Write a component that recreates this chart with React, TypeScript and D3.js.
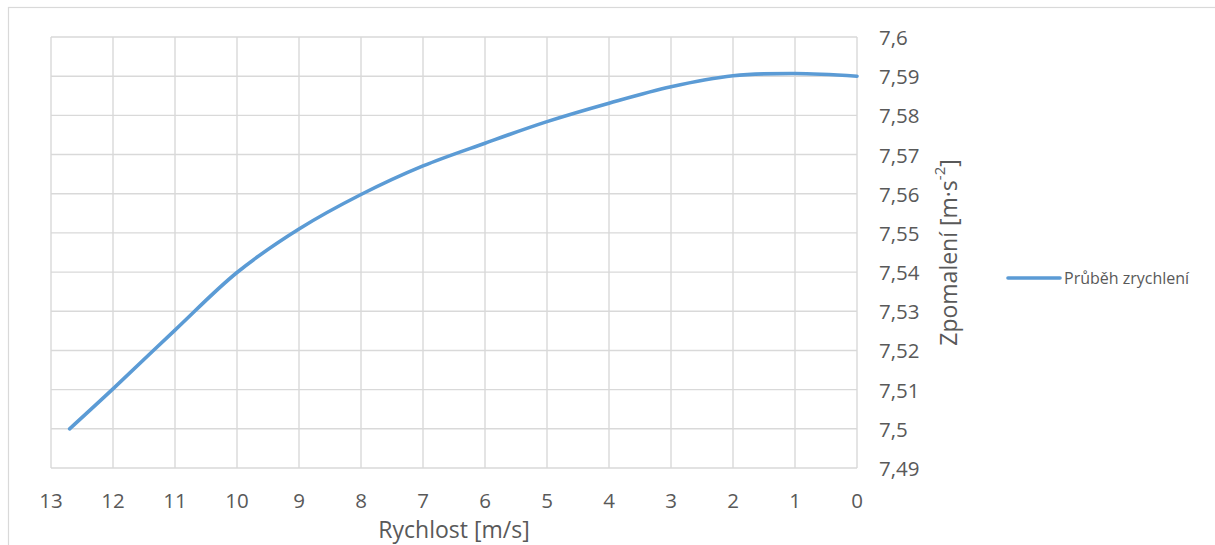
import React from "react";
import * as d3 from "d3";

const speeds = [12.7, 12, 11, 10, 9, 8, 7, 6, 5, 4, 3, 2, 1, 0];
const decel = [7.5, 7.5102, 7.5252, 7.5399, 7.551, 7.5598, 7.5671, 7.5729, 7.5784, 7.5831, 7.5873, 7.5901, 7.5907, 7.59];
const xTicks = [13, 12, 11, 10, 9, 8, 7, 6, 5, 4, 3, 2, 1, 0];
const yTicks = [7.49, 7.5, 7.51, 7.52, 7.53, 7.54, 7.55, 7.56, 7.57, 7.58, 7.59, 7.6];
const seriesName = "Průběh zrychlení";
const xTitle = "Rychlost [m/s]";

const W = 1215;
const H = 545;
const left = 51, right = 857, top = 37, bottom = 468;
const FONT = "'Open Sans', 'Noto Sans', sans-serif";
const TXT = "#595959";
const GRID = "#d9d9d9";
const BLUE = "#5b9bd5";

const fmt = (v: number) => {
  const s = d3.format(".2~f")(v);
  return s.replace(".", ",");
};

export default function App() {
  const x = d3.scaleLinear().domain([13, 0]).range([left, right]);
  const y = d3.scaleLinear().domain([7.49, 7.6]).range([bottom, top]);
  const pts: [number, number][] = speeds.map((s, i) => [x(s), y(decel[i])]);
  const line = d3.line().curve(d3.curveCatmullRom.alpha(0.5))(pts) || "";

  return (
    <svg width={W} height={H} style={{ position: "absolute", left: 0, top: 0, background: "#fff" }}>
      <rect x={8.5} y={7.5} width={1215} height={560} fill="#fff" stroke={GRID} strokeWidth={1.2} />
      {yTicks.map((t) => (
        <line key={"hy" + t} x1={left} x2={right} y1={y(t)} y2={y(t)} stroke={GRID} strokeWidth={1.4} />
      ))}
      {xTicks.map((t) => (
        <line key={"vx" + t} x1={x(t)} x2={x(t)} y1={top} y2={bottom} stroke={GRID} strokeWidth={1.4} />
      ))}
      <path d={line} fill="none" stroke={BLUE} strokeWidth={3.6} strokeLinecap="round" strokeLinejoin="round" />
      {xTicks.map((t) => (
        <text key={"tx" + t} x={x(t)} y={500} textAnchor="middle" dominantBaseline="central" fontFamily={FONT} fontSize={20.5} fill={TXT}>
          {t}
        </text>
      ))}
      {yTicks.map((t) => (
        <text key={"ty" + t} x={879} y={y(t)} textAnchor="start" dominantBaseline="central" fontFamily={FONT} fontSize={20.5} fill={TXT}>
          {fmt(t)}
        </text>
      ))}
      <text x={(left + right) / 2} y={529} textAnchor="middle" dominantBaseline="central" fontFamily={FONT} fontSize={23} fill={TXT}>
        {xTitle}
      </text>
      <text
        transform={`translate(948, ${(top + bottom) / 2}) rotate(-90)`}
        textAnchor="middle"
        dominantBaseline="central"
        fontFamily={FONT}
        fontSize={23}
        fill={TXT}
      >
        Zpomalení [m·s<tspan dy={-9} fontSize={15}>-2</tspan><tspan dy={9}>]</tspan>
      </text>
      <line x1={1008} x2={1060} y1={278} y2={278} stroke={BLUE} strokeWidth={3.6} strokeLinecap="round" />
      <text x={1064} y={278} dominantBaseline="central" fontFamily={FONT} fontSize={16} fill={TXT}>
        {seriesName}
      </text>
    </svg>
  );
}
